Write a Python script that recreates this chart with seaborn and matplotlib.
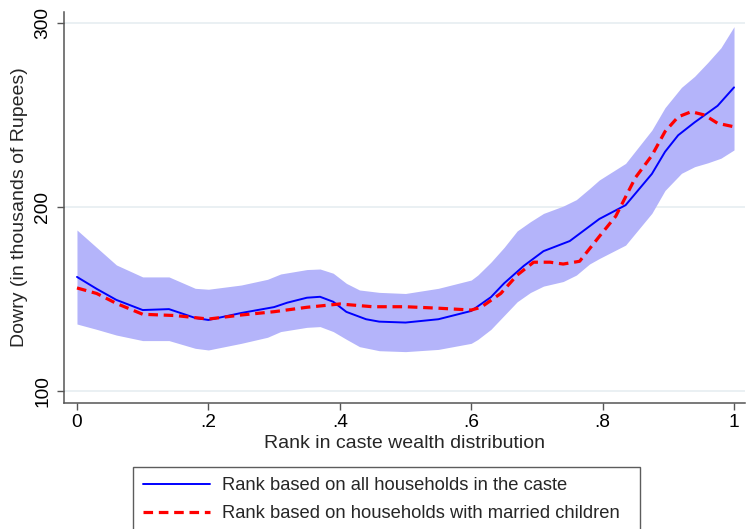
import matplotlib
matplotlib.use("Agg")
import matplotlib.pyplot as plt
import pandas as pd
import seaborn as sns

sns.set_style("ticks")
plt.rcParams["font.family"] = ["Liberation Sans", "DejaVu Sans"]

# Local polynomial fit: rank among all households in the caste
rank_all = [0.00, 0.03, 0.06, 0.10, 0.14, 0.18, 0.20, 0.25, 0.30, 0.32, 0.35, 0.37,
            0.39, 0.41, 0.44, 0.46, 0.50, 0.55, 0.60, 0.61, 0.63, 0.65, 0.68, 0.71,
            0.75, 0.795, 0.835, 0.875, 0.895, 0.915, 0.94, 0.975, 1.00]
dowry_all = [162, 155.5, 149.5, 144, 144.5, 139.7, 138.6, 142.4, 145.6, 148, 150.7, 151.2,
             148.5, 143, 139, 137.7, 137.2, 139, 143.5, 146, 151, 158.5, 168, 176,
             181.5, 193.5, 201, 218, 230, 239, 246, 255, 265]

# Local polynomial fit: rank among households with married children
rank_married = [0.00, 0.03, 0.06, 0.10, 0.15, 0.20, 0.25, 0.30, 0.35, 0.40, 0.45, 0.50,
                0.55, 0.60, 0.615, 0.645, 0.67, 0.695, 0.72, 0.74, 0.765, 0.795, 0.82,
                0.85, 0.875, 0.895, 0.915, 0.935, 0.955, 0.975, 1.00]
dowry_married = [156, 153, 147.6, 141.7, 141, 139.1, 141.3, 143.1, 145.5, 147.3, 145.8, 145.8,
                 145, 144, 145.5, 153, 163, 170, 170, 169, 170.5, 184, 195,
                 216, 228, 241, 249, 251.8, 250, 245.5, 243.6]

# 95% confidence band around the all-household fit
rank_band = [0.00, 0.03, 0.06, 0.10, 0.14, 0.18, 0.20, 0.25, 0.29, 0.31, 0.35, 0.37,
             0.39, 0.41, 0.43, 0.46, 0.50, 0.55, 0.60, 0.61, 0.63, 0.65, 0.67, 0.69,
             0.71, 0.74, 0.76, 0.78, 0.795, 0.835, 0.875, 0.895, 0.92, 0.94, 0.96, 0.98, 1.00]
band_upper = [187.5, 178, 168.5, 162, 162, 155.8, 155.3, 157.6, 160.7, 163.6, 166, 166.3,
              164, 158.5, 154.9, 153.6, 153, 155.8, 160.3, 163, 170, 178, 187, 192,
              196.5, 200.5, 204, 210, 214.7, 223.7, 241.8, 254, 265, 271, 278.5, 286.5, 298]
band_lower = [136.4, 133.5, 130.4, 127.4, 127.4, 123.2, 122.3, 125.9, 129.2, 132.3, 134.6, 135,
              132.3, 128.1, 124.1, 121.9, 121.4, 122.6, 125.9, 128, 133.5, 141, 148.5, 153.5,
              157, 159.5, 163, 169, 172, 179.3, 196.6, 209, 218.3, 221.9, 224, 226.5, 231]

x_ticks = [0, 0.2, 0.4, 0.6, 0.8, 1.0]
x_tick_labels = ["0", ".2", ".4", ".6", ".8", "1"]
y_ticks = [100, 200, 300]

label_all = "Rank based on all households in the caste"
label_married = "Rank based on households with married children"

df_all = pd.DataFrame({"rank": rank_all, "dowry": dowry_all})
df_married = pd.DataFrame({"rank": rank_married, "dowry": dowry_married})

W, H = 746, 529
fig = plt.figure(figsize=(W / 100, H / 100), dpi=100)
ax = fig.add_axes([64 / W, 1 - 403 / H, (745 - 64) / W, (403 - 12) / H])

ax.fill_between(rank_band, band_lower, band_upper, color="#b4b4fa", lw=0, zorder=1)
sns.lineplot(data=df_all, x="rank", y="dowry", ax=ax, color="#0000ff", lw=1.4,
             label=label_all, zorder=3, sort=False)
sns.lineplot(data=df_married, x="rank", y="dowry", ax=ax, color="#ff0000", lw=2.3,
             linestyle=(0, (3.0, 1.8)), label=label_married, zorder=4, sort=False)

ax.set_xlim(-13 / 658, 1 + 11 / 658)
ax.set_ylim(100 - 12 / 1.84, 300 + 11 / 1.84)
ax.set_xticks(x_ticks)
ax.set_xticklabels(x_tick_labels)
ax.set_yticks(y_ticks)
ax.yaxis.grid(True, color="#e6eef1", lw=1.2, zorder=0)
ax.set_axisbelow(True)

for side in ("top", "right"):
    ax.spines[side].set_visible(False)
for side in ("left", "bottom"):
    ax.spines[side].set_color("#555555")
    ax.spines[side].set_linewidth(1.1)

ax.tick_params(axis="both", direction="out", length=5, width=1, color="#555555",
               labelsize=13.8, labelcolor="black")
ax.tick_params(axis="x", pad=3)
ax.tick_params(axis="y", labelrotation=90, pad=4)
for t in ax.get_yticklabels():
    t.set_va("center")

ax.set_xlabel("Rank in caste wealth distribution", fontsize=14, labelpad=3)
ax.set_ylabel("Dowry (in thousands of Rupees)", fontsize=14, labelpad=5)

handles, labels = ax.get_legend_handles_labels()
ax.get_legend().remove()
leg = fig.legend(handles, labels, loc="upper left", mode="expand",
                 bbox_to_anchor=(133 / W, 0, (640 - 133) / W, 1 - 467 / H),
                 borderaxespad=0, frameon=True, fancybox=False, edgecolor="#333333",
                 fontsize=13.2, handlelength=3.65, handletextpad=0.65,
                 labelspacing=0.62, borderpad=0.55)
leg.get_frame().set_linewidth(1.0)

fig.savefig("out.png", dpi=100)
